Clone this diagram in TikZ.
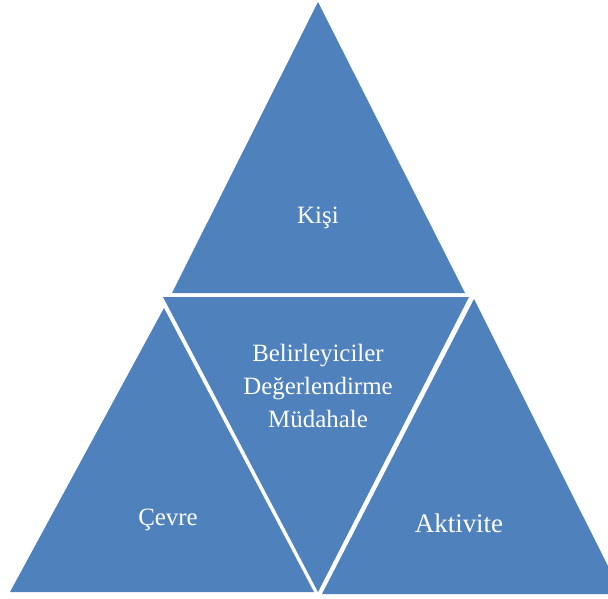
\documentclass[tikz,border=0pt]{standalone}
\usepackage{fontspec}
\setmainfont{Liberation Serif}
\definecolor{triblue}{HTML}{4F81BD}

\begin{document}
\begin{tikzpicture}[x=1bp,y=-1bp,
    tri/.style={fill=triblue},
    label/.style={text=white, align=center, font=\fontsize{25}{33}\selectfont}]
  \useasboundingbox (0,0) rectangle (608,599);
  \clip (0,0) rectangle (608,599);

  % top triangle
  \coordinate (t1) at (318,2);
  \coordinate (t2) at (172,293);
  \coordinate (t3) at (465,293);
  % middle, upside down
  \coordinate (m1) at (163,297);
  \coordinate (m2) at (469,297);
  \coordinate (m3) at (318,592);
  % left triangle
  \coordinate (l1) at (164,308);
  \coordinate (l2) at (10,592);
  \coordinate (l3) at (314,592);
  % right triangle
  \coordinate (r1) at (474,299);
  \coordinate (r2) at (322,594);
  \coordinate (r3) at (622,594);

  \fill[tri] (t1) -- (t2) -- (t3) -- cycle;
  \fill[tri] (m1) -- (m2) -- (m3) -- cycle;
  \fill[tri] (l1) -- (l2) -- (l3) -- cycle;
  \fill[tri] (r1) -- (r2) -- (r3) -- cycle;

  \node[label] (kisi) at (318,218) {Kişi};
  \node[label] (mid) at (318,386) {Belirleyiciler\\Değerlendirme\\Müdahale};
  \node[label] (cevre) at (168,520) {Çevre};
  \node[label, font=\fontsize{27}{33}\selectfont] (akt) at (459,523) {Aktivite};
\end{tikzpicture}
\end{document}
